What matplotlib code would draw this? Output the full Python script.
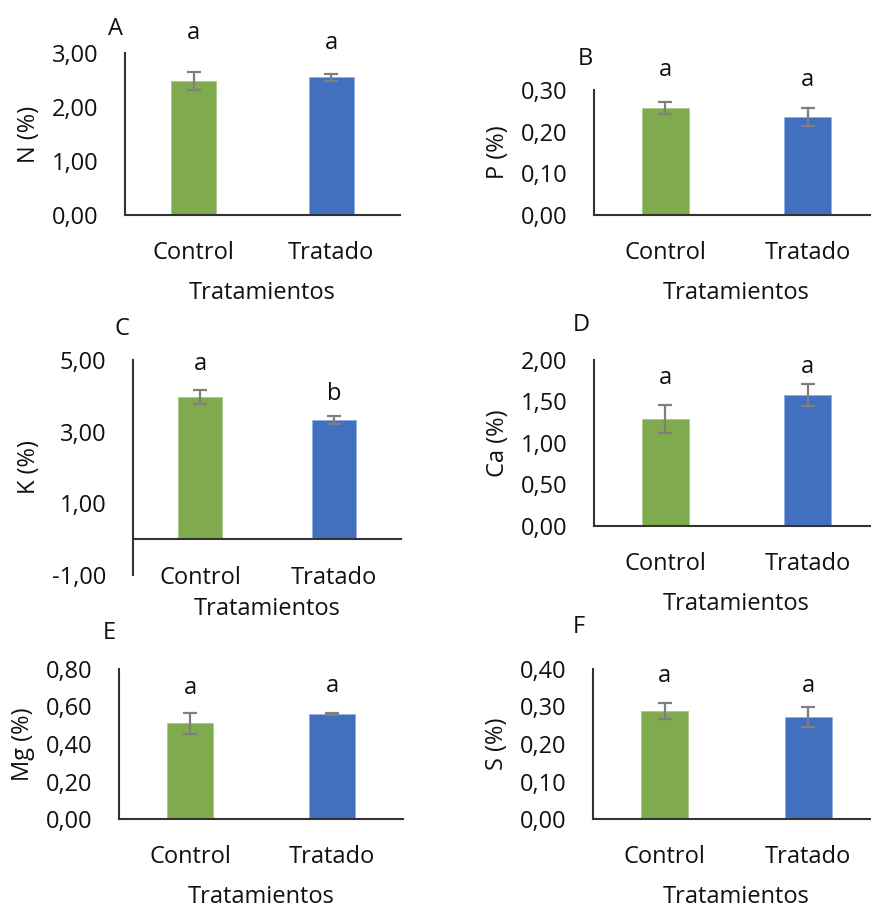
import matplotlib.pyplot as plt
from matplotlib.ticker import FixedLocator, FuncFormatter

plt.rcParams["font.family"] = ["Open Sans", "DejaVu Sans"]

categories = ["Control", "Tratado"]
panel_letters = ["A", "B", "C", "D", "E", "F"]
ylabels = ["N (%)", "P (%)", "K (%)", "Ca (%)", "Mg (%)", "S (%)"]

n_mean = [2.48, 2.55]
n_err = [0.16, 0.07]
p_mean = [0.257, 0.235]
p_err = [0.015, 0.022]
k_mean = [3.97, 3.33]
k_err = [0.19, 0.12]
ca_mean = [1.29, 1.58]
ca_err = [0.17, 0.13]
mg_mean = [0.51, 0.56]
mg_err = [0.056, 0.005]
s_mean = [0.288, 0.272]
s_err = [0.021, 0.027]

n_ticks = [0, 1, 2, 3]
p_ticks = [0, 0.1, 0.2, 0.3]
k_ticks = [-1, 1, 3, 5]
ca_ticks = [0, 0.5, 1.0, 1.5, 2.0]
mg_ticks = [0, 0.2, 0.4, 0.6, 0.8]
s_ticks = [0, 0.1, 0.2, 0.3, 0.4]

sig_n = ["a", "a"]
sig_p = ["a", "a"]
sig_k = ["a", "b"]
sig_ca = ["a", "a"]
sig_mg = ["a", "a"]
sig_s = ["a", "a"]

means = [n_mean, p_mean, k_mean, ca_mean, mg_mean, s_mean]
errs = [n_err, p_err, k_err, ca_err, mg_err, s_err]
ticks = [n_ticks, p_ticks, k_ticks, ca_ticks, mg_ticks, s_ticks]
sigs = [sig_n, sig_p, sig_k, sig_ca, sig_mg, sig_s]

# layout (pixels of an 871x909 canvas): left, right, top, bottom of each axes
boxes = [
    (125, 400, 53, 215),
    (594, 879, 90, 215),
    (133, 401, 360, 575),
    (594, 879, 360, 526),
    (119, 403, 669, 819),
    (593, 880, 669, 819),
]
# where the significance letters sit, in data units
sig_y = [
    [3.37, 3.19],
    [0.348, 0.324],
    [4.89, 4.06],
    [1.78, 1.92],
    [0.70, 0.71],
    [0.381, 0.355],
]
letter_pos = [(115, 29), (585, 59), (122, 329), (581, 325), (109, 633), (579, 627)]
xlabel_pad = [11, 11, 5, 11, 11, 11]

colors = ["#80AA4E", "#4170BF"]
W, H = 871, 909
FS = 17

fig = plt.figure(figsize=(W / 100, H / 100), dpi=100)


def fmt(v, _pos):
    return f"{v:.2f}".replace(".", ",")


for i in range(6):
    left, right, top, bottom = boxes[i]
    ax = fig.add_axes([left / W, 1 - bottom / H, (right - left) / W, (bottom - top) / H])
    ax.bar(
        [0, 1],
        means[i],
        width=0.33,
        color=colors,
        edgecolor=["#A9C98A", "#8FAEE0"],
        linewidth=0.6,
        zorder=2,
    )
    ax.errorbar(
        [0, 1],
        means[i],
        yerr=errs[i],
        fmt="none",
        ecolor="#7F7F7F",
        elinewidth=1.6,
        capsize=5,
        capthick=1.6,
        zorder=3,
    )
    for j in range(2):
        ax.text(j, sig_y[i][j], sigs[i][j], ha="center", va="center",
                fontsize=FS, color="#111111", clip_on=False)

    ax.set_xlim(-0.5, 1.5)
    ax.set_ylim(ticks[i][0], ticks[i][-1])
    ax.yaxis.set_major_locator(FixedLocator(ticks[i]))
    ax.yaxis.set_major_formatter(FuncFormatter(fmt))
    ax.set_xticks([0, 1])
    ax.set_xticklabels(categories)
    ax.tick_params(axis="both", length=0, labelsize=FS, colors="#111111")
    ax.tick_params(axis="y", pad=19)
    ax.tick_params(axis="x", pad=19)

    for side in ["top", "right"]:
        ax.spines[side].set_visible(False)
    for side in ["left", "bottom"]:
        ax.spines[side].set_color("#333333")
        ax.spines[side].set_linewidth(1.5)
    if ticks[i][0] < 0:
        ax.spines["bottom"].set_position(("data", 0))

    ax.set_ylabel(ylabels[i], fontsize=FS, labelpad=8, color="#111111")
    ax.set_xlabel("Tratamientos", fontsize=FS, labelpad=xlabel_pad[i], color="#111111")

    lx, ly = letter_pos[i]
    fig.text(lx / W, 1 - ly / H, panel_letters[i], ha="center", va="center",
             fontsize=FS, color="#111111")

fig.savefig("out.png", dpi=100)
plt.close(fig)
